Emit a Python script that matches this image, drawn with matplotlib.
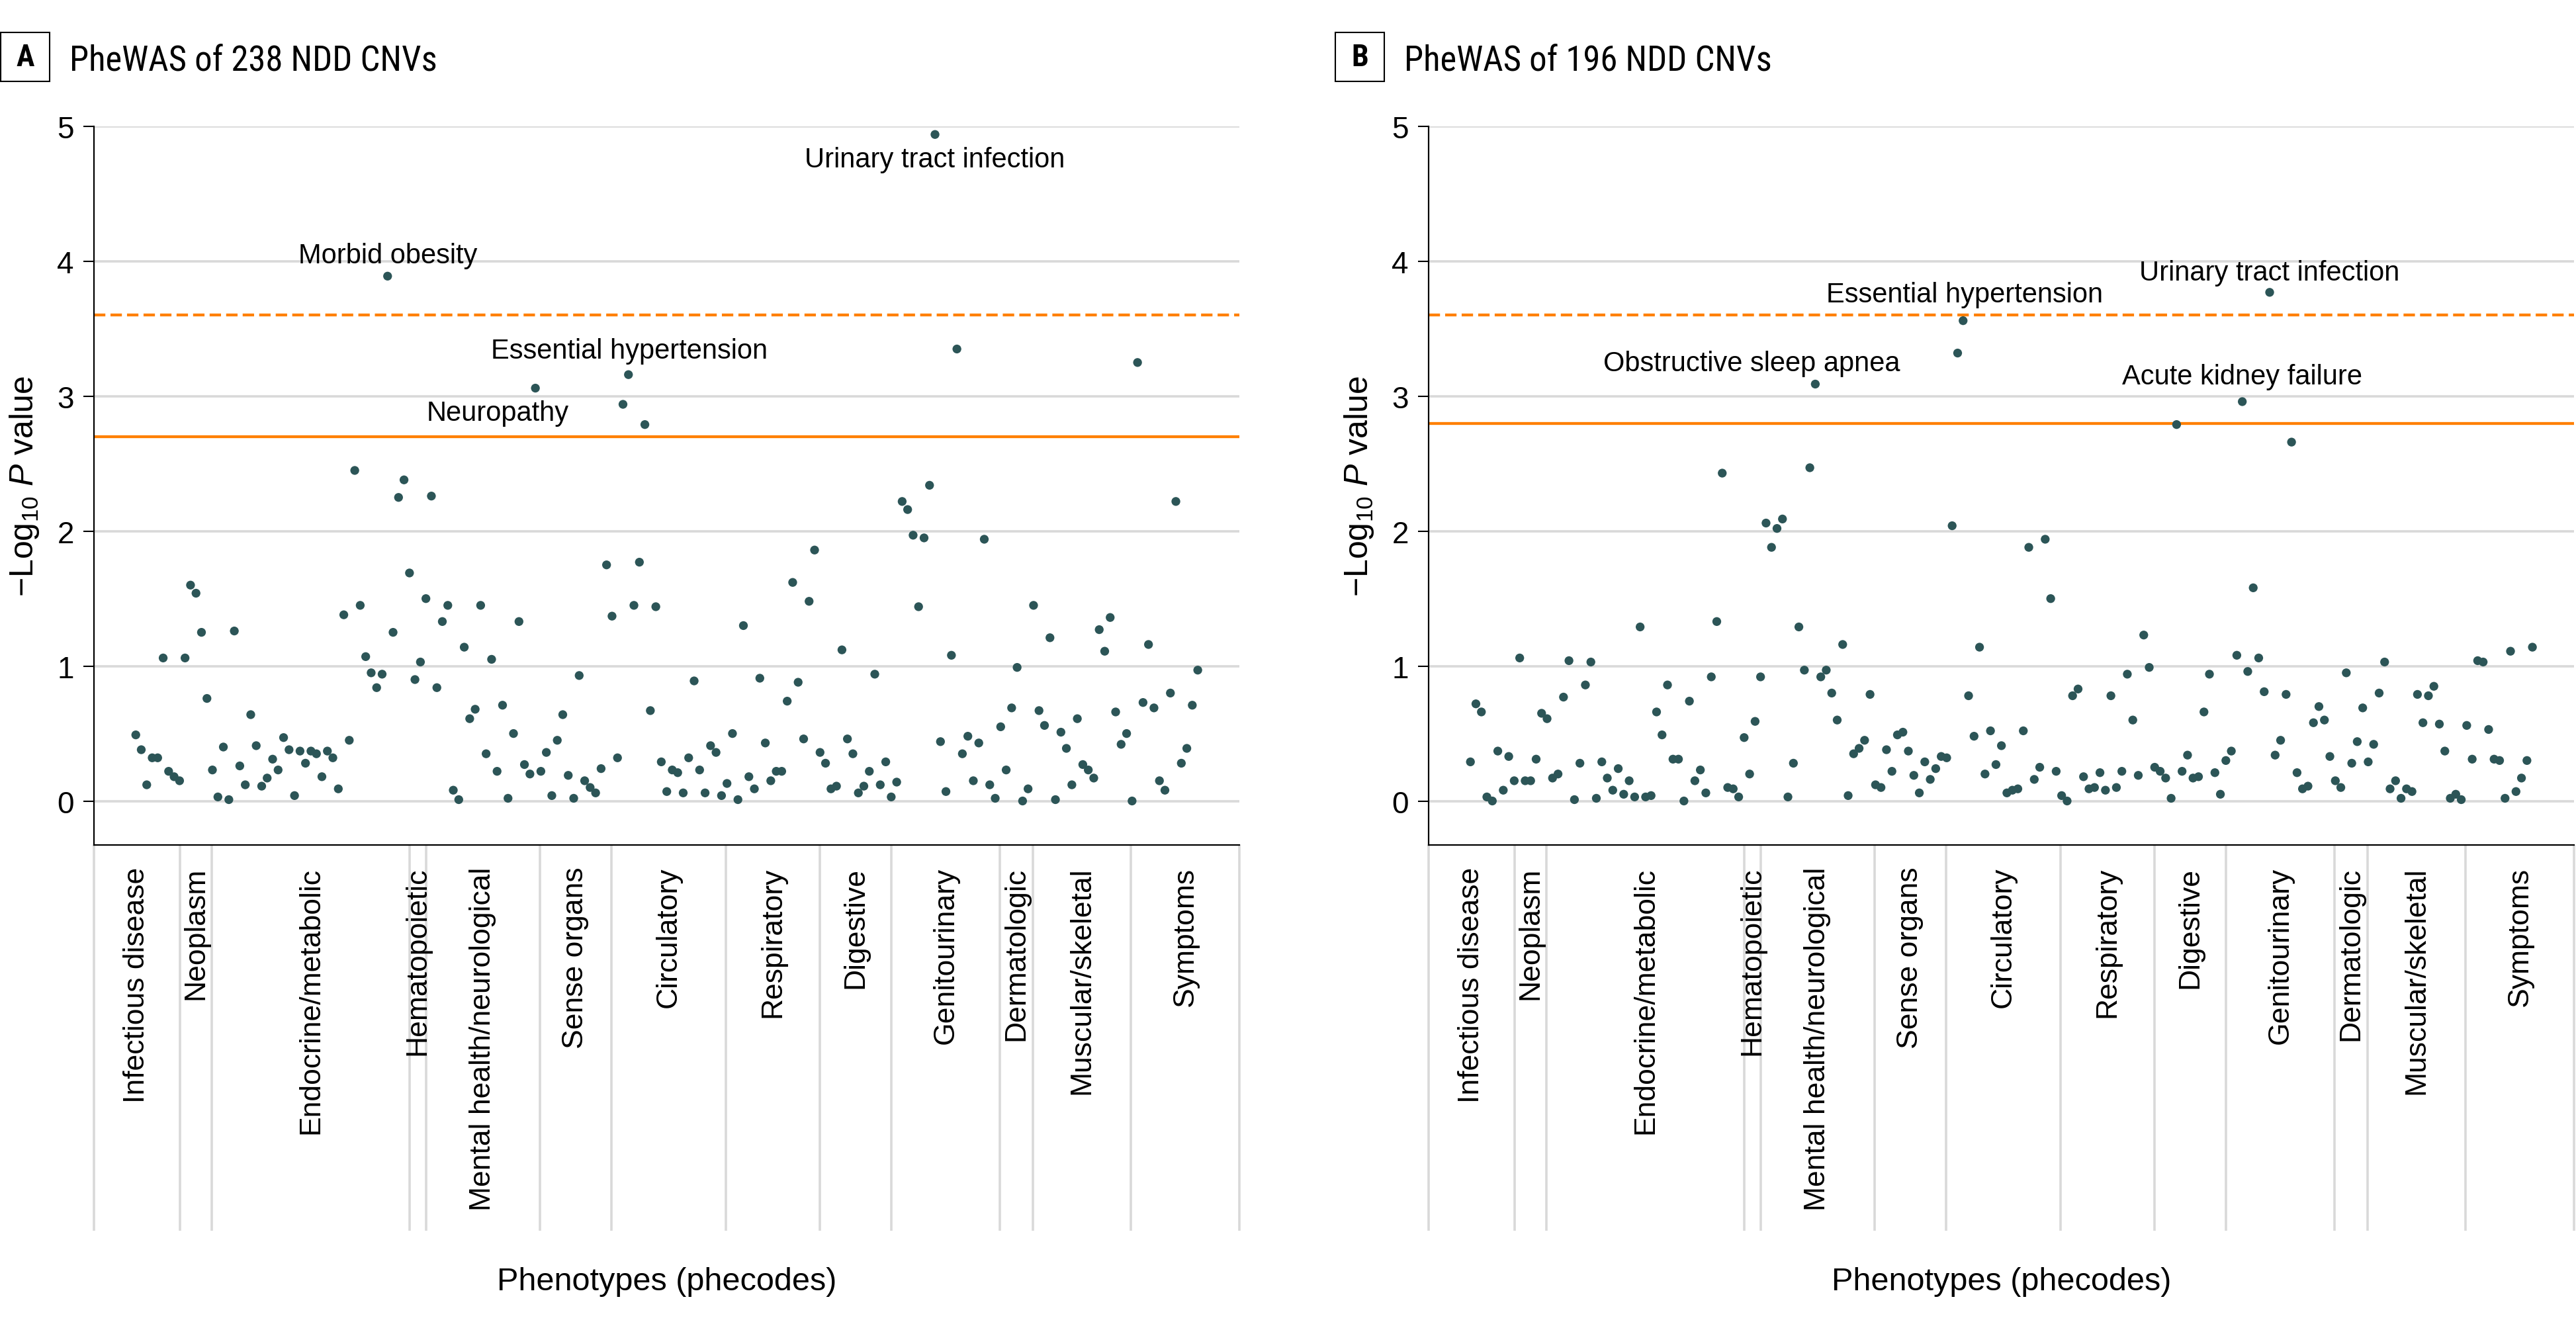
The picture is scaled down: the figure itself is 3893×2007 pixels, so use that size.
import numpy as np
import matplotlib
matplotlib.use("Agg")
import matplotlib.pyplot as plt
import matplotlib.font_manager as fm
from matplotlib.patches import Rectangle

# ---------------- data ----------------
categories = ["Infectious disease", "Neoplasm", "Endocrine/metabolic", "Hematopoietic",
              "Mental health/neurological", "Sense organs", "Circulatory", "Respiratory",
              "Digestive", "Genitourinary", "Dermatologic", "Muscular/skeletal", "Symptoms"]
# category boundaries along the phecode order (phecode index units)
category_bounds = [8.1, 13.9, 50.0, 53.0, 73.8, 86.9, 107.8, 125.0, 138.0, 157.9, 163.9, 181.8]
phecode_range = [-7.7, 201.6]

titles = ["PheWAS of 238 NDD CNVs", "PheWAS of 196 NDD CNVs"]
panel_letters = ["A", "B"]

# -log10 P for each phecode, in phecode order
logp_A = [0.49, 0.38, 0.12, 0.32, 0.32, 1.06, 0.22, 0.18, 0.15, 1.06,
          1.60, 1.54, 1.25, 0.76, 0.23, 0.03, 0.40, 0.01, 1.26, 0.26,
          0.12, 0.64, 0.41, 0.11, 0.17, 0.31, 0.23, 0.47, 0.38, 0.04,
          0.37, 0.28, 0.37, 0.35, 0.18, 0.37, 0.32, 0.09, 1.38, 0.45,
          2.45, 1.45, 1.07, 0.95, 0.84, 0.94, 3.89, 1.25, 2.25, 2.38,
          1.69, 0.90, 1.03, 1.50, 2.26, 0.84, 1.33, 1.45, 0.08, 0.01,
          1.14, 0.61, 0.68, 1.45, 0.35, 1.05, 0.22, 0.71, 0.02, 0.50,
          1.33, 0.27, 0.20, 3.06, 0.22, 0.36, 0.04, 0.45, 0.64, 0.19,
          0.02, 0.93, 0.15, 0.10, 0.06, 0.24, 1.75, 1.37, 0.32, 2.94,
          3.16, 1.45, 1.77, 2.79, 0.67, 1.44, 0.29, 0.07, 0.23, 0.21,
          0.06, 0.32, 0.89, 0.23, 0.06, 0.41, 0.36, 0.04, 0.13, 0.50,
          0.01, 1.30, 0.18, 0.09, 0.91, 0.43, 0.15, 0.22, 0.22, 0.74,
          1.62, 0.88, 0.46, 1.48, 1.86, 0.36, 0.28, 0.09, 0.11, 1.12,
          0.46, 0.35, 0.06, 0.11, 0.22, 0.94, 0.12, 0.29, 0.03, 0.14,
          2.22, 2.16, 1.97, 1.44, 1.95, 2.34, 4.94, 0.44, 0.07, 1.08,
          3.35, 0.35, 0.48, 0.15, 0.43, 1.94, 0.12, 0.02, 0.55, 0.23,
          0.69, 0.99, 0.00, 0.09, 1.45, 0.67, 0.56, 1.21, 0.01, 0.51,
          0.39, 0.12, 0.61, 0.27, 0.23, 0.17, 1.27, 1.11, 1.36, 0.66,
          0.42, 0.50, 0.00, 3.25, 0.73, 1.16, 0.69, 0.15, 0.08, 0.80,
          2.22, 0.28, 0.39, 0.71, 0.97]

logp_B = [0.29, 0.72, 0.66, 0.03, 0.00, 0.37, 0.08, 0.33, 0.15, 1.06,
          0.15, 0.15, 0.31, 0.65, 0.61, 0.17, 0.20, 0.77, 1.04, 0.01,
          0.28, 0.86, 1.03, 0.02, 0.29, 0.17, 0.08, 0.24, 0.05, 0.15,
          0.03, 1.29, 0.03, 0.04, 0.66, 0.49, 0.86, 0.31, 0.31, 0.00,
          0.74, 0.15, 0.23, 0.06, 0.92, 1.33, 2.43, 0.10, 0.09, 0.03,
          0.47, 0.20, 0.59, 0.92, 2.06, 1.88, 2.02, 2.09, 0.03, 0.28,
          1.29, 0.97, 2.47, 3.09, 0.92, 0.97, 0.80, 0.60, 1.16, 0.04,
          0.35, 0.39, 0.45, 0.79, 0.12, 0.10, 0.38, 0.22, 0.49, 0.51,
          0.37, 0.19, 0.06, 0.29, 0.16, 0.24, 0.33, 0.32, 2.04, 3.32,
          3.56, 0.78, 0.48, 1.14, 0.20, 0.52, 0.27, 0.41, 0.06, 0.08,
          0.09, 0.52, 1.88, 0.16, 0.25, 1.94, 1.50, 0.22, 0.04, 0.00,
          0.78, 0.83, 0.18, 0.09, 0.10, 0.21, 0.08, 0.78, 0.10, 0.22,
          0.94, 0.60, 0.19, 1.23, 0.99, 0.25, 0.22, 0.17, 0.02, 2.79,
          0.22, 0.34, 0.17, 0.18, 0.66, 0.94, 0.21, 0.05, 0.30, 0.37,
          1.08, 2.96, 0.96, 1.58, 1.06, 0.81, 3.77, 0.34, 0.45, 0.79,
          2.66, 0.21, 0.09, 0.11, 0.58, 0.70, 0.60, 0.33, 0.15, 0.10,
          0.95, 0.28, 0.44, 0.69, 0.29, 0.42, 0.80, 1.03, 0.09, 0.15,
          0.02, 0.09, 0.07, 0.79, 0.58, 0.78, 0.85, 0.57, 0.37, 0.02,
          0.05, 0.01, 0.56, 0.31, 1.04, 1.03, 0.53, 0.31, 0.30, 0.02,
          1.11, 0.07, 0.17, 0.30, 1.14]

# significance thresholds (-log10 P)
threshold_dashed = [3.6, 3.6]
threshold_solid = [2.7, 2.8]

# labelled phenotypes: (name, phecode index)
labels_A = [("Morbid obesity", 46), ("Neuropathy", 73),
            ("Essential hypertension", 90), ("Urinary tract infection", 146)]
labels_B = [("Obstructive sleep apnea", 63), ("Essential hypertension", 90),
            ("Urinary tract infection", 146), ("Acute kidney failure", 141)]

# ---------------- style ----------------
label_offsets = {  # text anchor offset from the point, in pixels (dx, dy)
    "A": {"Morbid obesity": (0, 20), "Neuropathy": (-57, -48),
          "Essential hypertension": (1, 25), "Urinary tract infection": (0, -49)},
    "B": {"Obstructive sleep apnea": (-96, 20), "Essential hypertension": (2, 29),
          "Urinary tract infection": (0, 19), "Acute kidney failure": (0, 27)},
}

avail = {f.name for f in fm.fontManager.ttflist}


def pick(*names):
    for n in names:
        if n in avail:
            return n
    return "DejaVu Sans"


BASE = pick("Liberation Sans", "Roboto", "DejaVu Sans")
NARROW = pick("Liberation Sans Narrow", "Roboto Condensed", BASE)
title_size = 38 if NARROW != BASE else 33

plt.rcParams["font.family"] = [BASE, "DejaVu Sans"]
plt.rcParams["mathtext.fontset"] = "custom"
plt.rcParams["mathtext.rm"] = BASE
plt.rcParams["mathtext.it"] = BASE + ":italic"

DOT = "#2C5557"
ORANGE = "#FF8000"
GRID = "#D9D9D9"

W, H, DPI = 3893, 2008, 100
fig = plt.figure(figsize=(W / DPI, H / DPI), dpi=DPI)

ax_left_px = [141.5, 2158.5]
ax_w_px = 1731.5
ax_top_px, ax_bot_px = 192.0, 1278.0

panels = [(logp_A, labels_A, "A"), (logp_B, labels_B, "B")]

for p, (vals, labs, key) in enumerate(panels):
    left = ax_left_px[p] / W
    ax = fig.add_axes([left, (H - ax_bot_px) / H, ax_w_px / W, (ax_bot_px - ax_top_px) / H])
    x = np.arange(len(vals))
    ax.set_xlim(*phecode_range)
    ax.set_ylim(-0.326, 5.0)

    # gridlines
    ax.set_yticks([0, 1, 2, 3, 4, 5])
    ax.yaxis.grid(True, color=GRID, lw=2.6)
    ax.set_axisbelow(True)

    # thresholds
    ax.axhline(threshold_solid[p], color=ORANGE, lw=3.1, zorder=2)
    ax.axhline(threshold_dashed[p], color=ORANGE, lw=3.1, zorder=2, dashes=(4.0, 1.8))

    ax.scatter(x, vals, s=92, color=DOT, edgecolors="none", zorder=3, clip_on=False)

    # spines / ticks
    for s in ["top", "right"]:
        ax.spines[s].set_visible(False)
    ax.spines["left"].set_linewidth(1.6)
    ax.spines["bottom"].set_linewidth(1.6)
    ax.spines["left"].set_color("black")
    ax.spines["bottom"].set_color("black")
    ax.set_xticks([])
    ax.tick_params(axis="y", length=11.5, width=1.5, pad=10, labelsize=33, colors="black")

    # y label
    ax.text(-0.0605, 0.5, r"$-$Log$_{10}$ $P$ value", transform=ax.transAxes,
            rotation=90, ha="center", va="center", fontsize=36)

    # category separators and labels below the axis
    bounds = [phecode_range[0]] + category_bounds + [phecode_range[1]]
    trans = ax.get_xaxis_transform()
    ax.vlines(bounds, -0.537, 0, transform=trans, colors=GRID, lw=2.6, clip_on=False, zorder=1)
    for i, cat in enumerate(categories):
        cx = 0.5 * (bounds[i] + bounds[i + 1])
        ax.text(cx, -0.030, cat, transform=trans, rotation=90, ha="center", va="top",
                fontsize=32)

    ax.text(0.5, -0.607, "Phenotypes (phecodes)", transform=ax.transAxes,
            ha="center", va="center", fontsize=35)

    # annotations
    for name, idx in labs:
        dx, dy = label_offsets[key][name]
        ax.annotate(name, xy=(x[idx], vals[idx]), xytext=(dx, dy),
                    textcoords="offset pixels", ha="center", va="baseline", fontsize=30)

    # panel letter box + title
    box_x = (ax_left_px[p] - 141.5) + 1.0
    fig.patches.append(Rectangle((box_x / W, (H - 124) / H), 74 / W, 74 / H,
                                 transform=fig.transFigure, fill=False,
                                 edgecolor="black", lw=1.5))
    fig.text((box_x + 37) / W, (H - 87) / H, panel_letters[p], ha="center", va="center",
             fontsize=33, fontweight="bold", family=[NARROW, BASE])
    fig.text((box_x + 104) / W, (H - 107) / H, titles[p], ha="left", va="baseline",
             fontsize=title_size, family=[NARROW, BASE])

fig.savefig("out.png", dpi=DPI, facecolor="white")
